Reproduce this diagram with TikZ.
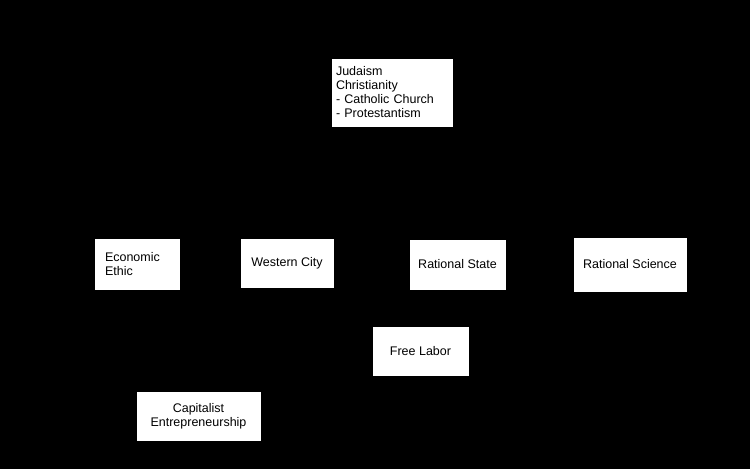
\documentclass[tikz,border=0pt]{standalone}
\usepackage{fontspec}
\setmainfont{Liberation Sans}
\begin{document}
\begin{tikzpicture}[x=1pt,y=-1pt,
  box/.style={fill=white,draw=black,font=\fontsize{12.5}{14}\selectfont}]
\fill[black] (0,0) rectangle (750,469);
\useasboundingbox (0,0) rectangle (750,469);
\node[box,minimum width=122,minimum height=69,align=left,text width=112] (jud) at (392,92.5) {Judaism\\Christianity\\- Catholic Church\\- Protestantism};
\node[box,minimum width=86,minimum height=52,align=left,text width=64] (eco) at (137,264) {Economic\\Ethic};
\node[box,minimum width=94,minimum height=50] (wc) at (287,263) {Western City};
\node[box,minimum width=97,minimum height=51] (rs) at (457.5,264.5) {Rational State};
\node[box,minimum width=114,minimum height=55] (sci) at (630,264.5) {Rational Science};
\node[box,minimum width=97,minimum height=50] (fl) at (420.5,351) {Free Labor};
\node[box,minimum width=125,minimum height=50,align=center] (cap) at (198.5,416) {Capitalist\\Entrepreneurship};
\end{tikzpicture}
\end{document}
